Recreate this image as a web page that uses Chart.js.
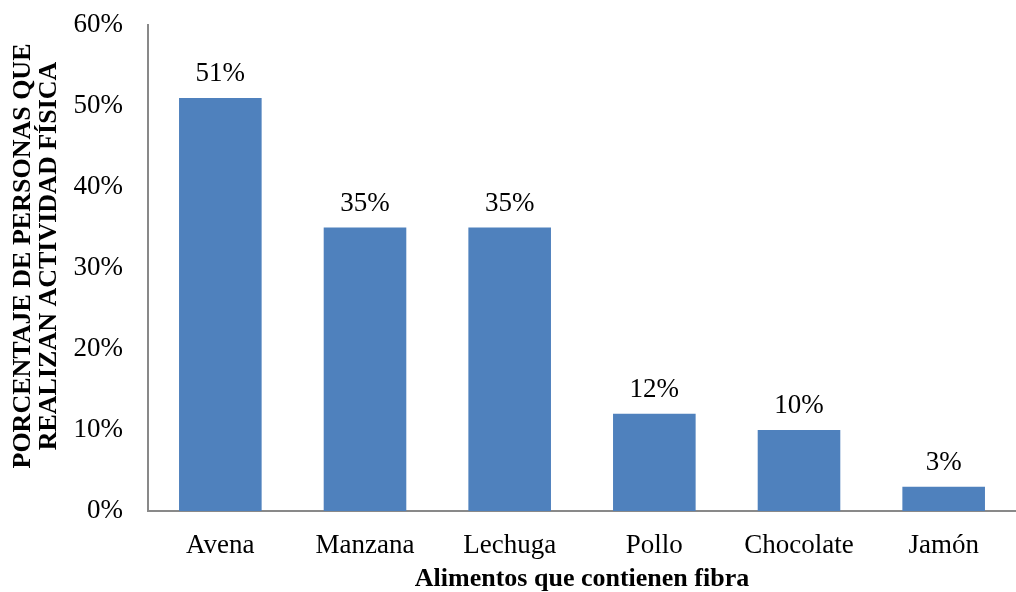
<!DOCTYPE html>
<html>
<head>
<meta charset="utf-8">
<script src="https://cdn.jsdelivr.net/npm/chart.js@4/dist/chart.umd.min.js"></script>
<style>
  html, body { margin: 0; padding: 0; background: #fff; }
  #wrap { width: 1016px; height: 592px; position: relative; }
</style>
</head>
<body>
<div id="wrap"><canvas id="chart"></canvas></div>
<script>
const categories = ['Avena', 'Manzana', 'Lechuga', 'Pollo', 'Chocolate', 'Jamón'];
const percentages = [51, 35, 35, 12, 10, 3];
const yTicks = [0, 10, 20, 30, 40, 50, 60];
const yTitle = ['PORCENTAJE DE PERSONAS QUE', 'REALIZAN ACTIVIDAD FÍSICA'];

const serif = '"Liberation Serif", "Times New Roman", serif';

// writes the value above each bar
const barLabels = {
    id: 'barLabels',
    afterDatasetsDraw(chart) {
        const ctx = chart.ctx;
        const meta = chart.getDatasetMeta(0);
        ctx.save();
        ctx.font = '27px ' + serif;
        ctx.fillStyle = '#000';
        ctx.textAlign = 'center';
        ctx.textBaseline = 'alphabetic';
        meta.data.forEach((bar, i) => {
            ctx.fillText(percentages[i] + '%', bar.x, bar.y - 17);
        });
        ctx.restore();
    }
};

// rotated two-line title of the value axis
const yAxisTitle = {
    id: 'yAxisTitle',
    afterDraw(chart) {
        const ctx = chart.ctx;
        ctx.save();
        ctx.translate(0, 256);
        ctx.rotate(-Math.PI / 2);
        ctx.font = 'bold 26px ' + serif;
        ctx.fillStyle = '#000';
        ctx.textAlign = 'center';
        ctx.textBaseline = 'middle';
        yTitle.forEach((line, i) => ctx.fillText(line, 0, 23 + i * 26));
        ctx.restore();
    }
};

new Chart(document.getElementById('chart'), {
    type: 'bar',
    data: {
        labels: categories,
        datasets: [{
            data: percentages,
            backgroundColor: '#4F81BD',
            borderWidth: 0,
            categoryPercentage: 1,
            barPercentage: 0.571
        }]
    },
    options: {
        responsive: true,
        maintainAspectRatio: false,
        animation: false,
        layout: { padding: { top: 25, right: -14, left: 0, bottom: 0 } },
        plugins: {
            legend: { display: false },
            tooltip: { enabled: false }
        },
        scales: {
            x: {
                grid: { display: false, drawTicks: false },
                border: { display: true, color: '#898989', width: 2 },
                ticks: { color: '#000', font: { family: serif, size: 27 }, padding: 19 },
                title: {
                    display: true,
                    text: 'Alimentos que contienen fibra',
                    color: '#000',
                    font: { family: serif, size: 26, weight: 'bold' },
                    padding: { top: 4, bottom: -3 }
                },
                afterFit(scale) { scale.height = 81; }
            },
            y: {
                min: 0,
                max: 60,
                afterBuildTicks(scale) { scale.ticks = yTicks.map(v => ({ value: v })); },
                grid: { display: false, drawTicks: false },
                border: { display: true, color: '#898989', width: 2 },
                ticks: {
                    color: '#000',
                    font: { family: serif, size: 27 },
                    padding: 25,
                    callback: v => v + '%'
                },
                afterFit(scale) {
                    scale.width = 148;
                    scale.paddingTop = 0;
                    scale.paddingBottom = 0;
                }
            }
        }
    },
    plugins: [barLabels, yAxisTitle]
});
</script>
</body>
</html>
